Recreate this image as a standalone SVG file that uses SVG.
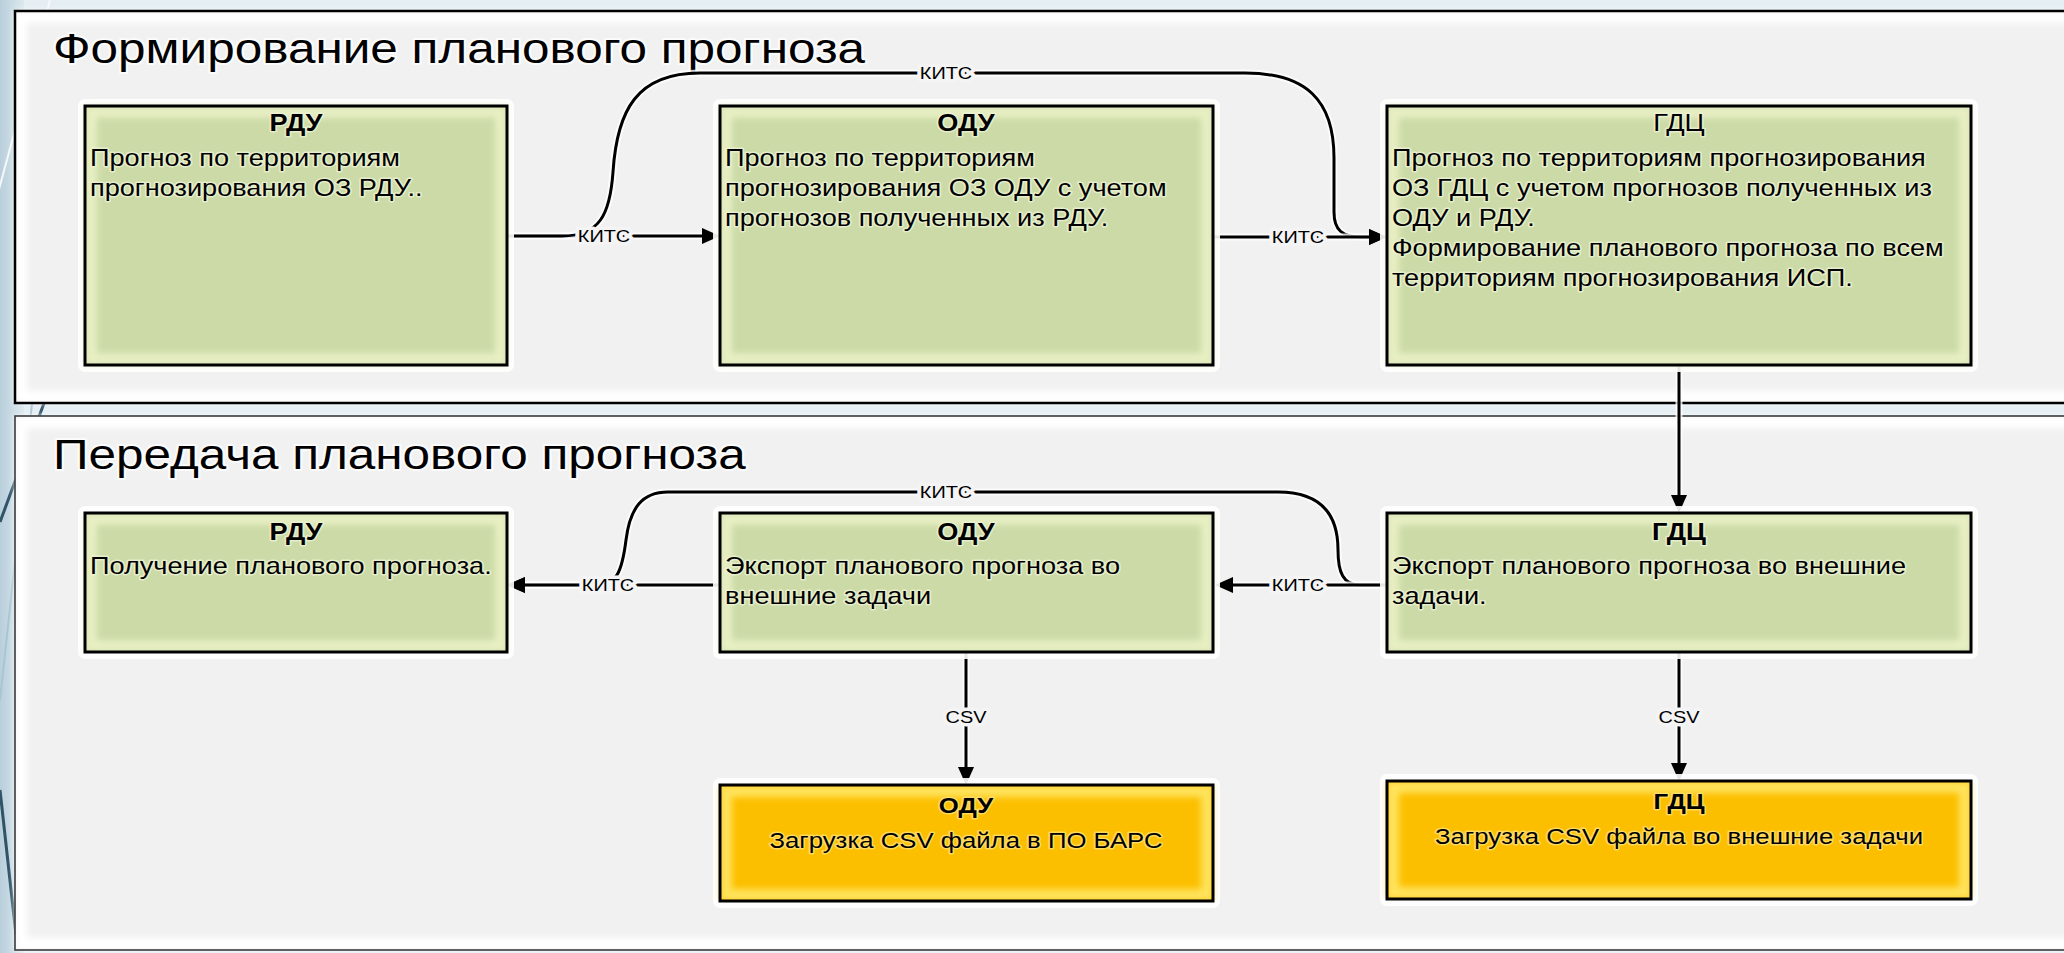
<svg xmlns="http://www.w3.org/2000/svg" width="2064" height="953" viewBox="0 0 2064 953">
  <style>
    .panel { fill: #f1f1f1; }
    .panel-edge { fill: none; stroke: #000; stroke-width: 2.5; }
    .panel-edge2 { fill: none; stroke: #3a3a3a; stroke-width: 1.6; }
    .panel-glow { fill: none; stroke: #ffffff; stroke-width: 12; }
    .halo { fill: none; stroke: #ffffff; stroke-width: 14; stroke-linejoin: round; opacity: 0.9; }
    .green { fill: #cbdaa6; }
    .green-glow { fill: none; stroke: #e7efc3; stroke-width: 12; }
    .yellow { fill: #fcbf00; }
    .yellow-glow { fill: none; stroke: #ffe35c; stroke-width: 12; }
    .edge { fill: none; stroke: #000; stroke-width: 3; }
    .wire-halo { fill: none; stroke: #ffffff; stroke-width: 7; opacity: 0.8; stroke-linejoin: round; }
    .wire { fill: none; stroke: #000; stroke-width: 3; stroke-linejoin: round; }
    .head { font-family: "Liberation Sans", Arial, sans-serif; font-size: 43px; fill: #000; stroke: #ffffff; stroke-width: 4; stroke-opacity: 0.8; paint-order: stroke; stroke-linejoin: round; }
    .tg { font-family: "Liberation Sans", Arial, sans-serif; font-size: 23px; fill: #000; stroke: #eef4d6; stroke-width: 3; stroke-opacity: 0.75; paint-order: stroke; stroke-linejoin: round; }
    .ty { font-family: "Liberation Sans", Arial, sans-serif; font-size: 22px; fill: #000; stroke: #ffe27a; stroke-width: 3; stroke-opacity: 0.75; paint-order: stroke; stroke-linejoin: round; }
    .bold { font-weight: bold; }
    .mid { text-anchor: middle; }
    .lbl { font-family: "Liberation Sans", Arial, sans-serif; font-size: 17px; fill: #000; text-anchor: middle; dominant-baseline: central; stroke: #f4f4f4; stroke-width: 7; paint-order: stroke; stroke-linejoin: round; }
  </style>
  <defs>
    <linearGradient id="strip" x1="0" y1="0" x2="1" y2="0">
      <stop offset="0" stop-color="#b8cfdb"/>
      <stop offset="1" stop-color="#dce8ee"/>
    </linearGradient>
    <filter id="soft" x="-5%" y="-5%" width="110%" height="110%">
      <feGaussianBlur stdDeviation="3"/>
    </filter>
    <marker id="arrow" viewBox="0 0 18 16" refX="8" refY="8" markerWidth="18" markerHeight="16" markerUnits="userSpaceOnUse" orient="auto">
      <path d="M0,0 L18,8 L0,16 z" fill="#000"/>
    </marker>
  </defs>

  <!-- slide background -->
  <rect x="0" y="0" width="2064" height="953" fill="#e4eef3"/>
  <rect x="0" y="0" width="24" height="953" fill="url(#strip)"/>
  <line x1="50" y1="0" x2="-20" y2="260" stroke="#f4f8fa" stroke-width="2"/>
  <line x1="60" y1="360" x2="0" y2="522" stroke="#2f5468" stroke-width="3"/>
  <line x1="0" y1="790" x2="16" y2="935" stroke="#2f5468" stroke-width="3"/>
  <line x1="40" y1="330" x2="0" y2="700" stroke="#a9c4d2" stroke-width="2"/>

  <!-- swimlane panels -->
  <g id="lane-forming">
    <rect class="panel" x="15" y="11" width="2070" height="392"/>
    <rect class="panel-glow" x="21" y="17" width="2070" height="380" filter="url(#soft)"/>
    <rect class="panel-edge" x="15" y="11" width="2070" height="392"/>
    <text class="head" transform="translate(53,63) scale(1.15,1)">Формирование планового прогноза</text>
  </g>
  <g id="lane-transfer">
    <rect class="panel" x="15" y="416" width="2070" height="534"/>
    <rect class="panel-glow" x="21" y="422" width="2070" height="522" filter="url(#soft)"/>
    <rect class="panel-edge2" x="15" y="416" width="2070" height="534"/>
    <text class="head" transform="translate(53,469) scale(1.15,1)">Передача планового прогноза</text>
  </g>

  <!-- connectors -->
  <g id="connectors">
    <g id="c-rdu-odu-1">
      <path class="wire-halo" d="M507,236 H710"/>
      <path class="wire" d="M507,236 H710" marker-end="url(#arrow)"/>
    </g>
    <g id="c-rdu-gdc-1">
      <path class="wire-halo" d="M507,236 H562 C600,236 610,214 613,172 C617,110 637,73 700,73 H1245 C1306,73 1334,100 1334,158 V212 C1334,230 1342,237 1362,237 H1377"/>
      <path class="wire" d="M507,236 H562 C600,236 610,214 613,172 C617,110 637,73 700,73 H1245 C1306,73 1334,100 1334,158 V212 C1334,230 1342,237 1362,237 H1377" marker-end="url(#arrow)"/>
    </g>
    <g id="c-odu-gdc-1">
      <path class="wire-halo" d="M1213,237 H1377"/>
      <path class="wire" d="M1213,237 H1377" marker-end="url(#arrow)"/>
    </g>
    <g id="c-gdc-gdc">
      <path class="wire-halo" d="M1679,365 V503"/>
      <path class="wire" d="M1679,365 V503" marker-end="url(#arrow)"/>
    </g>
    <g id="c-odu-rdu-2">
      <path class="wire-halo" d="M720,585 H517"/>
      <path class="wire" d="M720,585 H517" marker-end="url(#arrow)"/>
    </g>
    <g id="c-gdc-rdu-2">
      <path class="wire-halo" d="M1387,585 H1360 C1343,585 1338,572 1338,550 C1338,510 1316,492 1278,492 H668 C642,492 630,508 626,540 C622,572 616,585 598,585 H517"/>
      <path class="wire" d="M1387,585 H1360 C1343,585 1338,572 1338,550 C1338,510 1316,492 1278,492 H668 C642,492 630,508 626,540 C622,572 616,585 598,585 H517" marker-end="url(#arrow)"/>
    </g>
    <g id="c-gdc-odu-2">
      <path class="wire-halo" d="M1387,585 H1225"/>
      <path class="wire" d="M1387,585 H1225" marker-end="url(#arrow)"/>
    </g>
    <g id="c-odu-csv">
      <path class="wire-halo" d="M966,652 V775"/>
      <path class="wire" d="M966,652 V775" marker-end="url(#arrow)"/>
    </g>
    <g id="c-gdc-csv">
      <path class="wire-halo" d="M1679,652 V771"/>
      <path class="wire" d="M1679,652 V771" marker-end="url(#arrow)"/>
    </g>
    <text class="lbl" transform="translate(604,236) scale(1.17,1)">КИТС</text>
    <text class="lbl" transform="translate(946,73) scale(1.17,1)">КИТС</text>
    <text class="lbl" transform="translate(1298,237) scale(1.17,1)">КИТС</text>
    <text class="lbl" transform="translate(608,585) scale(1.17,1)">КИТС</text>
    <text class="lbl" transform="translate(946,492) scale(1.17,1)">КИТС</text>
    <text class="lbl" transform="translate(1298,585) scale(1.17,1)">КИТС</text>
    <text class="lbl" transform="translate(966,717) scale(1.17,1)">CSV</text>
    <text class="lbl" transform="translate(1679,717) scale(1.17,1)">CSV</text>
  </g>

  <!-- forming lane nodes -->
  <g id="rdu-forecast">
    <rect class="halo" x="85" y="106" width="422" height="259"/>
    <rect class="green" x="85" y="106" width="422" height="259"/>
    <rect class="green-glow" x="91" y="112" width="410" height="247" filter="url(#soft)"/>
    <rect class="edge" x="85" y="106" width="422" height="259"/>
    <text class="tg bold mid" transform="translate(296,131) scale(1.18,1)">РДУ</text>
    <text class="tg" transform="translate(90,0) scale(1.18,1)"><tspan x="0" y="166">Прогноз по территориям</tspan><tspan x="0" y="196">прогнозирования ОЗ РДУ..</tspan></text>
  </g>
  <g id="odu-forecast">
    <rect class="halo" x="720" y="106" width="493" height="259"/>
    <rect class="green" x="720" y="106" width="493" height="259"/>
    <rect class="green-glow" x="726" y="112" width="481" height="247" filter="url(#soft)"/>
    <rect class="edge" x="720" y="106" width="493" height="259"/>
    <text class="tg bold mid" transform="translate(966,131) scale(1.18,1)">ОДУ</text>
    <text class="tg" transform="translate(725,0) scale(1.18,1)"><tspan x="0" y="166">Прогноз по территориям</tspan><tspan x="0" y="196">прогнозирования ОЗ ОДУ с учетом</tspan><tspan x="0" y="226">прогнозов полученных из РДУ.</tspan></text>
  </g>
  <g id="gdc-forecast">
    <rect class="halo" x="1387" y="106" width="584" height="259"/>
    <rect class="green" x="1387" y="106" width="584" height="259"/>
    <rect class="green-glow" x="1393" y="112" width="572" height="247" filter="url(#soft)"/>
    <rect class="edge" x="1387" y="106" width="584" height="259"/>
    <text class="tg mid" transform="translate(1679,131) scale(1.18,1)">ГДЦ</text>
    <text class="tg" transform="translate(1392,0) scale(1.18,1)"><tspan x="0" y="166">Прогноз по территориям прогнозирования</tspan><tspan x="0" y="196">ОЗ ГДЦ с учетом прогнозов полученных из</tspan><tspan x="0" y="226">ОДУ и РДУ.</tspan><tspan x="0" y="256">Формирование планового прогноза по всем</tspan><tspan x="0" y="286">территориям прогнозирования ИСП.</tspan></text>
  </g>

  <!-- transfer lane nodes -->
  <g id="rdu-receive">
    <rect class="halo" x="85" y="513" width="422" height="139"/>
    <rect class="green" x="85" y="513" width="422" height="139"/>
    <rect class="green-glow" x="91" y="519" width="410" height="127" filter="url(#soft)"/>
    <rect class="edge" x="85" y="513" width="422" height="139"/>
    <text class="tg bold mid" transform="translate(296,540) scale(1.18,1)">РДУ</text>
    <text class="tg" transform="translate(90,0) scale(1.18,1)"><tspan x="0" y="574">Получение планового прогноза.</tspan></text>
  </g>
  <g id="odu-export">
    <rect class="halo" x="720" y="513" width="493" height="139"/>
    <rect class="green" x="720" y="513" width="493" height="139"/>
    <rect class="green-glow" x="726" y="519" width="481" height="127" filter="url(#soft)"/>
    <rect class="edge" x="720" y="513" width="493" height="139"/>
    <text class="tg bold mid" transform="translate(966,540) scale(1.18,1)">ОДУ</text>
    <text class="tg" transform="translate(725,0) scale(1.18,1)"><tspan x="0" y="574">Экспорт планового прогноза во</tspan><tspan x="0" y="604">внешние задачи</tspan></text>
  </g>
  <g id="gdc-export">
    <rect class="halo" x="1387" y="513" width="584" height="139"/>
    <rect class="green" x="1387" y="513" width="584" height="139"/>
    <rect class="green-glow" x="1393" y="519" width="572" height="127" filter="url(#soft)"/>
    <rect class="edge" x="1387" y="513" width="584" height="139"/>
    <text class="tg bold mid" transform="translate(1679,540) scale(1.18,1)">ГДЦ</text>
    <text class="tg" transform="translate(1392,0) scale(1.18,1)"><tspan x="0" y="574">Экспорт планового прогноза во внешние</tspan><tspan x="0" y="604">задачи.</tspan></text>
  </g>
  <g id="odu-csv-load">
    <rect class="halo" x="720" y="785" width="493" height="116"/>
    <rect class="yellow" x="720" y="785" width="493" height="116"/>
    <rect class="yellow-glow" x="726" y="791" width="481" height="104" filter="url(#soft)"/>
    <rect class="edge" x="720" y="785" width="493" height="116"/>
    <text class="ty bold mid" transform="translate(966,813) scale(1.17,1)">ОДУ</text>
    <text class="ty mid" transform="translate(966,848) scale(1.17,1)">Загрузка CSV файла в ПО БАРС</text>
  </g>
  <g id="gdc-csv-load">
    <rect class="halo" x="1387" y="781" width="584" height="118"/>
    <rect class="yellow" x="1387" y="781" width="584" height="118"/>
    <rect class="yellow-glow" x="1393" y="787" width="572" height="106" filter="url(#soft)"/>
    <rect class="edge" x="1387" y="781" width="584" height="118"/>
    <text class="ty bold mid" transform="translate(1679,809) scale(1.17,1)">ГДЦ</text>
    <text class="ty mid" transform="translate(1679,844) scale(1.17,1)">Загрузка CSV файла во внешние задачи</text>
  </g>
</svg>
